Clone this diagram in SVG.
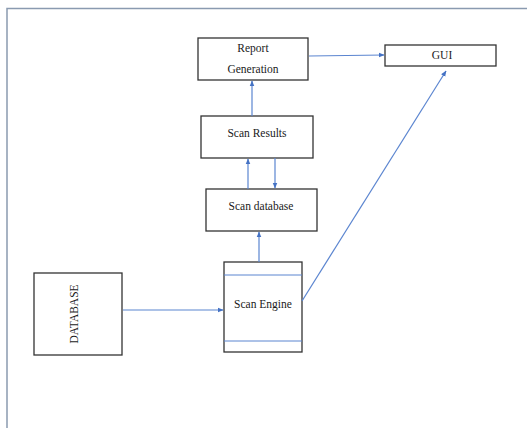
<svg xmlns="http://www.w3.org/2000/svg" width="527" height="428" viewBox="0 0 527 428">
<style>
.box{fill:#fff;stroke:#333;stroke-width:1.3}
.t{font-family:"Liberation Serif","Times New Roman","DejaVu Serif",serif;font-size:11.5px;fill:#1a1a1a;text-anchor:middle}
.c{stroke:#5b85d0;stroke-width:1.2;fill:none}
.frame{stroke:#8a9ab0;stroke-width:1.5;fill:none}
</style>
<defs>
<marker id="ah" viewBox="0 0 10 10" refX="9" refY="5" markerWidth="6" markerHeight="6" orient="auto" markerUnits="userSpaceOnUse">
<path d="M0,1 L10,5 L0,9 Z" fill="#4472c4"/>
</marker>
</defs>
<rect width="527" height="428" fill="#fff"/>
<path class="frame" d="M7,428 V8.5 H527"/>
<g id="report">
<rect class="box" x="198" y="38" width="110" height="42"/>
<text class="t" x="253" y="52">Report</text>
<text class="t" x="253" y="73">Generation</text>
</g>
<g id="gui">
<rect class="box" x="385" y="45" width="111" height="21"/>
<text class="t" x="442" y="59">GUI</text>
</g>
<g id="results">
<rect class="box" x="201" y="116" width="112" height="42"/>
<text class="t" x="257" y="137">Scan Results</text>
</g>
<g id="scandb">
<rect class="box" x="206" y="189" width="111" height="42"/>
<text class="t" x="261" y="210">Scan database</text>
</g>
<g id="engine">
<rect class="box" x="224" y="262" width="78" height="90"/>
<line x1="224" y1="275" x2="302" y2="275" stroke="#5b85d0" stroke-width="1"/>
<line x1="224" y1="341" x2="302" y2="341" stroke="#5b85d0" stroke-width="1"/>
<text class="t" x="263" y="308">Scan Engine</text>
</g>
<g id="database">
<rect class="box" x="34" y="273" width="88" height="82"/>
<text class="t" transform="translate(78,314) rotate(-90)">DATABASE</text>
</g>
<g id="connectors">
<line class="c" x1="309" y1="56" x2="384" y2="55" marker-end="url(#ah)"/>
<line class="c" x1="252" y1="116" x2="252" y2="81" marker-end="url(#ah)"/>
<line class="c" x1="248" y1="189" x2="248" y2="159" marker-end="url(#ah)"/>
<line class="c" x1="275" y1="158" x2="275" y2="188" marker-end="url(#ah)"/>
<line class="c" x1="259" y1="262" x2="259" y2="232" marker-end="url(#ah)"/>
<line class="c" x1="123" y1="310" x2="223" y2="310" marker-end="url(#ah)"/>
<line class="c" x1="302" y1="301" x2="446" y2="71" marker-end="url(#ah)"/>
</g>
</svg>
